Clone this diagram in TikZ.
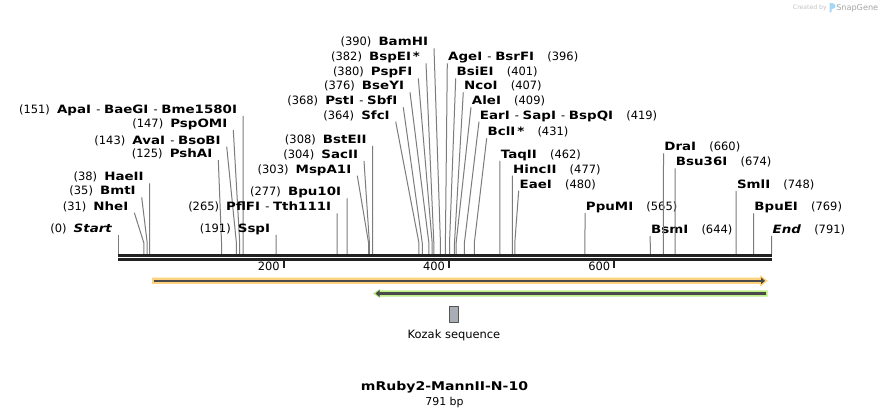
\documentclass[tikz,border=0pt]{standalone}
\usepackage{fontspec}
\setmainfont{DejaVu Sans}[BoldFeatures={FakeStretch=1.17}, BoldItalicFeatures={FakeStretch=1.17}]
\usetikzlibrary{arrows.meta}
\definecolor{leader}{HTML}{7C7C7C}
\definecolor{rulerc}{HTML}{222222}
\definecolor{orfill}{HTML}{FFD27F}
\definecolor{grfill}{HTML}{BDEE88}
\definecolor{bandline}{HTML}{4A4A4A}
\definecolor{kozfill}{HTML}{A9ADB5}
\definecolor{kozline}{HTML}{555555}
\definecolor{wmgrey}{HTML}{C4C4C4}
\definecolor{wmblue}{HTML}{AAD6F5}
\newcommand{\labfont}{\fontsize{8.6}{10}\selectfont}
\newcommand{\ngap}{\hspace{0.62em}}
\newcommand{\dgap}{\hspace{0.45em}}
\newcommand{\rgap}{\hspace{1.15em}}
\tikzset{
  lblL/.style={anchor=south east, inner xsep=4.3pt, inner ysep=0pt, text depth=1.8pt, font=\labfont},
  lblR/.style={anchor=south west, inner xsep=0.5pt, inner ysep=0pt, text depth=1.8pt, font=\labfont},
  lead/.style={leader, line width=0.75pt},
}
\begin{document}
\begin{tikzpicture}[x=0.75pt, y=-0.75pt, line join=round]
\fill[white] (0,0) rectangle (890,417);
\path
(118,255.5) coordinate (A)
(772,255.5) coordinate (B)
(118,259.5) coordinate (C)
(772,259.5) coordinate (D)
;
\draw[rulerc, line width=1.8pt] (A)--(B) (C)--(D);
\foreach \tk in {200,400,600}{
  \draw[rulerc, line width=1.5pt] ({118.3+0.826*\tk},261) -- ++(0,6.7);
  \node[anchor=base east, inner sep=0pt, font=\labfont] (t\tk) at ({118.3+0.826*\tk-3.5},271) {\tk};
}
\foreach \n/\p/\lx/\ly/\txt in {
  1/0/118.3/235/{(0)\ngap\textbf{\textit{Start}}},
  2/31/134.3/212.7/{(31)\ngap\textbf{NheI}},
  3/35/141.7/197.3/{(35)\ngap\textbf{BmtI}},
  4/38/149.7/183.3/{(38)\ngap\textbf{HaeII}},
  5/125/218.3/160/{(125)\ngap\textbf{PshAI}},
  6/143/226.7/146.7/{(143)\ngap\textbf{AvaI}\dgap- \textbf{BsoBI}},
  7/147/233.3/130/{(147)\ngap\textbf{PspOMI}},
  8/151/243/116/{(151)\ngap\textbf{ApaI}\dgap- \textbf{BaeGI}\dgap- \textbf{Bme1580I}},
  9/191/276.1/235/{(191)\ngap\textbf{SspI}},
  10/265/337.2/213.3/{(265)\ngap\textbf{PflFI}\dgap- \textbf{Tth111I}},
  11/277/347.1/198.3/{(277)\ngap\textbf{Bpu10I}},
  12/303/357.3/175.7/{(303)\ngap\textbf{MspA1I}},
  13/304/364/161/{(304)\ngap\textbf{SacII}},
  14/308/372.7/146/{(308)\ngap\textbf{BstEII}},
  15/364/395.7/121.7/{(364)\ngap\textbf{SfcI}},
  16/368/403.3/107.3/{(368)\ngap\textbf{PstI}\dgap- \textbf{SbfI}},
  17/376/410/92.3/{(376)\ngap\textbf{BseYI}},
  18/380/418.3/78.3/{(380)\ngap\textbf{PspFI}},
  19/382/426/63.3/{(382)\ngap\textbf{BspEI\,*}},
  20/390/434/48.3/{(390)\ngap\textbf{BamHI}}}{
  \coordinate (s\n) at ({118.3+0.826*\p},254);
  \coordinate (k\n) at ({118.3+0.826*\p},243);
  \node[lblL] (l\n) at (\lx,\ly) {\txt};
  \draw[lead] (l\n.south east) -- (k\n) -- (s\n);
}
\foreach \n/\p/\lx/\ly/\txt in {
  21/396/447.3/63.3/{\textbf{AgeI}\dgap- \textbf{BsrFI}\rgap(396)},
  22/401/455.7/78.3/{\textbf{BsiEI}\rgap(401)},
  23/407/463.3/92.3/{\textbf{NcoI}\rgap(407)},
  24/409/471/107.3/{\textbf{AleI}\rgap(409)},
  25/419/479/121.7/{\textbf{EarI}\dgap- \textbf{SapI}\dgap- \textbf{BspQI}\rgap(419)},
  26/431/486.7/138.3/{\textbf{BclI\,*}\rgap(431)},
  27/462/499.9/161/{\textbf{TaqII}\rgap(462)},
  28/477/512.3/175.7/{\textbf{HincII}\rgap(477)},
  29/480/518.7/190.7/{\textbf{EaeI}\rgap(480)},
  30/565/585/213/{\textbf{PpuMI}\rgap(565)},
  31/644/650.2/236/{\textbf{BsmI}\rgap(644)},
  32/660/663.5/153.3/{\textbf{DraI}\rgap(660)},
  33/674/675/168.3/{\textbf{Bsu36I}\rgap(674)},
  34/748/736.1/191/{\textbf{SmlI}\rgap(748)},
  35/769/753.5/213.3/{\textbf{BpuEI}\rgap(769)},
  36/791/771.7/236/{\textbf{\textit{End}}\rgap(791)}}{
  \coordinate (s\n) at ({118.3+0.826*\p},254);
  \coordinate (k\n) at ({118.3+0.826*\p},243);
  \node[lblR] (l\n) at (\lx,\ly) {\txt};
  \draw[lead] (l\n.south west) -- (k\n) -- (s\n);
}
\fill[orfill] (152,277.7) -- (760,277.7) -- (760,275.3) -- (767.7,280.85) -- (760,286.4) -- (760,284) -- (152,284) -- cycle;
\draw[bandline, line width=1.7pt, -{Triangle[length=3pt,width=5pt]}] (153.5,280.85) -- (765,280.85);
\fill[grfill] (372.7,293.5) -- (380,289) -- (380,290.3) -- (767.7,290.3) -- (767.7,296.7) -- (380,296.7) -- (380,298) -- cycle;
\draw[bandline, line width=1.7pt, -{Triangle[length=3pt,width=5pt]}] (766,293.5) -- (375.5,293.5);
\node[draw=kozline, fill=kozfill, line width=0.75pt, inner sep=0pt, minimum width=6.5pt, minimum height=12.2pt] (kozak) at (453.8,314.3) {};
\node[anchor=base, inner sep=0pt, font=\labfont] (kozlab) at (454,338.5) {Kozak sequence};
\node[anchor=base, inner sep=0pt, font=\fontsize{9}{11}\selectfont\bfseries] (title) at (444.5,390.7) {mRuby2-MannII-N-10};
\node[anchor=base, inner sep=0pt, font=\fontsize{8.2}{10}\selectfont] (size) at (444.5,405) {791 bp};
\node[anchor=base east, inner sep=0pt, text=wmgrey, font=\fontsize{4.6}{6}\selectfont] (created) at (827,10) {Created by};
\fill[wmblue] (829.5,3) -- (833,3.3) .. controls (836.5,4.2) and (836.3,8.3) .. (832.6,8.8) -- (831.6,9) -- (831.6,12) -- (829.5,12.6) -- cycle;
\node[anchor=base west, inner sep=0pt, text=wmgrey!85!black, font=\fontsize{6.1}{8}\selectfont] (snapgene) at (836,10.5) {SnapGene};
\end{tikzpicture}
\end{document}
